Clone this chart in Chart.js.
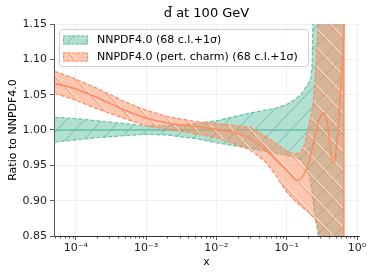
<!DOCTYPE html>
<html>
<head>
<meta charset="utf-8">
<script src="https://cdn.jsdelivr.net/npm/chart.js@4.4.1/dist/chart.umd.min.js"></script>
<style>
  html, body { margin: 0; padding: 0; background: #fff; }
  #wrap { width: 374px; height: 276px; }
</style>
</head>
<body>
<div id="wrap"><canvas id="c" width="374" height="276"></canvas></div>
<script>
// ---- data ----
const chartTitle = 'd\u0304 at 100 GeV';
const xTickValues = [1e-4, 1e-3, 1e-2, 1e-1, 1];
const xTickLabels = ['10\u207B\u2074', '10\u207B\u00B3', '10\u207B\u00B2', '10\u207B\u00B9', '10\u2070'];
const yTickValues = [0.85, 0.90, 0.95, 1.00, 1.05, 1.10, 1.15];

// NNPDF4.0 band (ratio to itself)
const greenX  = [5e-5, 1e-4, 2e-4, 5e-4, 1e-3, 2e-3, 5e-3, 1e-2, 2e-2, 3e-2, 5e-2, 7e-2, 0.1, 0.13, 0.16, 0.2, 0.22, 0.23, 0.25, 0.27, 0.3, 0.4, 0.65];
const greenUp = [1.018, 1.016, 1.013, 1.009, 1.006, 1.006, 1.009, 1.013, 1.020, 1.024, 1.028, 1.031, 1.036, 1.043, 1.050, 1.065, 1.072, 1.090, 1.3, 1.3, 1.3, 1.3, 1.3];
const greenLo = [0.983, 0.986, 0.989, 0.992, 0.994, 0.993, 0.988, 0.982, 0.977, 0.974, 0.970, 0.967, 0.964, 0.962, 0.958, 0.943, 0.925, 0.913, 0.880, 0.862, 0.835, 0.7, 0.7];
const greenCX = [5e-5, 0.65];
const greenCY = [1.0, 1.0];

// NNPDF4.0 (pert. charm) band
const orangeX  = [5e-5, 1e-4, 2e-4, 5e-4, 1e-3, 2e-3, 5e-3, 1e-2, 2e-2, 3e-2, 5e-2, 7e-2, 0.1, 0.13, 0.16, 0.18, 0.2, 0.22, 0.24, 0.26, 0.28, 0.3, 0.35, 0.4, 0.65];
const orangeUp = [1.083, 1.072, 1.059, 1.040, 1.028, 1.019, 1.012, 1.009, 1.006, 1.004, 0.991, 0.981, 0.970, 0.966, 0.968, 0.980, 1.0, 1.02, 1.04, 1.09, 1.15, 1.3, 1.3, 1.3, 1.3];
const orangeLo = [1.052, 1.042, 1.030, 1.016, 1.006, 1.001, 0.995, 0.989, 0.979, 0.972, 0.955, 0.936, 0.912, 0.900, 0.892, 0.888, 0.885, 0.880, 0.877, 0.872, 0.862, 0.845, 0.75, 0.7, 0.7];
const orangeCX = [5e-5, 1e-4, 2e-4, 5e-4, 1e-3, 2e-3, 5e-3, 1e-2, 2e-2, 3e-2, 5e-2, 7e-2, 0.1, 0.12, 0.14, 0.16, 0.19, 0.22, 0.25, 0.3, 0.34, 0.37, 0.39, 0.42, 0.46, 0.49, 0.525, 0.56, 0.6, 0.65, 0.66];
const orangeCY = [1.066, 1.058, 1.046, 1.028, 1.017, 1.010, 1.005, 1.001, 0.995, 0.988, 0.972, 0.958, 0.943, 0.934, 0.929, 0.931, 0.944, 0.965, 0.990, 1.018, 1.024, 1.015, 1.0, 0.970, 0.954, 0.962, 0.990, 1.025, 1.075, 1.14, 1.17];

const labels = ['NNPDF4.0 (68 c.l.+1\u03C3)', 'NNPDF4.0 (pert. charm) (68 c.l.+1\u03C3)'];

const green = '#66c2a5';
const orange = '#fc8d62';

function pts(xs, ys) {
    return xs.map((x, i) => ({ x: x, y: ys[i] }));
}

const canvas = document.getElementById('c');
const ctx = canvas.getContext('2d');

// hatched fill like matplotlib's hatch='/' and '\\'
function makeHatch(fill, line, dir, white) {
    const w = 18, h = 19;
    const tile = document.createElement('canvas');
    tile.width = w; tile.height = h;
    const g = tile.getContext('2d');
    g.fillStyle = fill;
    g.fillRect(0, 0, w, h);
    g.lineWidth = 0.9;
    const draw = (off, color) => {
        g.strokeStyle = color;
        g.beginPath();
        [-w, 0, w].forEach(k => {
            if (dir === '/') { g.moveTo(k + off, h); g.lineTo(k + off + w, 0); }
            else { g.moveTo(k + off, 0); g.lineTo(k + off + w, h); }
        });
        g.stroke();
    };
    if (white) draw(1.8, 'rgba(255,255,255,0.85)');
    draw(0, line);
    return ctx.createPattern(tile, 'repeat');
}

const greenHatch = makeHatch('rgba(102,194,165,0.5)', 'rgba(50,150,120,0.55)', '/', false);
const orangeHatch = makeHatch('rgba(252,141,98,0.5)', 'rgba(252,141,98,0.95)', '\\', true);

const lineBase = { pointRadius: 0, pointHoverRadius: 0, fill: false };

const datasets = [
    { ...lineBase, data: pts(orangeCX, orangeCY), borderColor: orange, borderWidth: 1.6, cubicInterpolationMode: 'monotone' },
    { ...lineBase, data: pts([orangeX[orangeX.length - 1], orangeX[orangeX.length - 1]], [orangeLo[orangeLo.length - 1], orangeUp[orangeUp.length - 1]]), borderColor: orange, borderWidth: 1.5 },
    { ...lineBase, data: pts(orangeX, orangeLo), borderColor: orange, borderWidth: 1.2, borderDash: [4, 2] },
    { ...lineBase, label: labels[1], legend: true, data: pts(orangeX, orangeUp), borderColor: orange, borderWidth: 1.2, borderDash: [4, 2],
      backgroundColor: orangeHatch, fill: '-1' },
    { ...lineBase, data: pts(greenCX, greenCY), borderColor: green, borderWidth: 1.6 },
    { ...lineBase, data: pts(greenX, greenLo), borderColor: green, borderWidth: 1.2, borderDash: [4, 2] },
    { ...lineBase, label: labels[0], legend: true, data: pts(greenX, greenUp), borderColor: green, borderWidth: 1.2, borderDash: [4, 2],
      backgroundColor: greenHatch, fill: '-1' }
];

// draw order: first dataset on top, fills before their own line
datasets.forEach((d, i) => { d.order = i; });

const FONT = 'DejaVu Sans';

const decor = {
    id: 'decor',
    afterDraw(chart) {
        const c = chart.ctx;
        const area = chart.chartArea;
        const xs = chart.scales.x;
        c.save();
        // minor ticks on the log axis
        c.strokeStyle = '#333';
        c.lineWidth = 0.8;
        for (let k = -5; k <= 0; k++) {
            for (let m = 2; m <= 9; m++) {
                const v = m * Math.pow(10, k);
                if (v < xs.min || v > xs.max) continue;
                const px = Math.round(xs.getPixelForValue(v)) + 0.5;
                c.beginPath();
                c.moveTo(px, area.bottom);
                c.lineTo(px, area.bottom + 2.5);
                c.stroke();
            }
        }
        // title centred on the plot
        c.fillStyle = '#000';
        c.font = '13px "' + FONT + '"';
        c.textAlign = 'center';
        c.textBaseline = 'alphabetic';
        c.fillText(chartTitle, (area.left + area.right) / 2, 17);

        // legend box
        const items = chart.data.datasets.filter(d => d.legend);
        items.sort((a, b) => labels.indexOf(a.label) - labels.indexOf(b.label));
        const bx = area.left + 5, by = area.top + 5, bw = 249, bh = 37;
        c.beginPath();
        c.roundRect(bx + 0.5, by + 0.5, bw, bh, 3);
        c.fillStyle = 'rgba(255,255,255,0.8)';
        c.fill();
        c.strokeStyle = '#d0d0d0';
        c.lineWidth = 1;
        c.stroke();
        c.font = '11px "' + FONT + '"';
        c.textAlign = 'left';
        c.textBaseline = 'middle';
        items.forEach((d, i) => {
            const cy = by + 11 + i * 17;
            const ix = bx + 4, iw = 25, ih = 9;
            c.fillStyle = '#fff';
            c.fillRect(ix, cy - ih / 2, iw, ih);
            c.fillStyle = d.backgroundColor;
            c.fillRect(ix, cy - ih / 2, iw, ih);
            c.setLineDash([3, 1.5]);
            c.strokeStyle = d.borderColor;
            c.lineWidth = 1;
            c.strokeRect(ix + 0.5, cy - ih / 2 + 0.5, iw - 1, ih - 1);
            c.setLineDash([]);
            c.fillStyle = '#000';
            c.fillText(d.label, ix + iw + 9, cy);
        });
        c.restore();
    }
};

new Chart(ctx, {
    type: 'line',
    data: { datasets: datasets },
    options: {
        responsive: false,
        animation: false,
        devicePixelRatio: 1,
        layout: { padding: { top: 24, right: 15, left: 0, bottom: 0 } },
        plugins: {
            legend: { display: false },
            title: { display: false },
            tooltip: { enabled: false },
            filler: { propagate: false }
        },
        scales: {
            x: {
                type: 'logarithmic',
                min: 4.9e-5,
                max: 1.067,
                afterBuildTicks: s => { s.ticks = xTickValues.map(v => ({ value: v })); },
                afterFit: s => { s.height = 40; },
                ticks: {
                    color: '#222',
                    font: { family: FONT, size: 11 },
                    padding: 2,
                    autoSkip: false,
                    maxRotation: 0,
                    callback: v => xTickLabels[xTickValues.indexOf(v)]
                },
                grid: { color: '#ececec', lineWidth: 0.8, tickColor: '#333', tickLength: 4, tickWidth: 0.8 },
                border: { color: '#333', width: 1 },
                title: { display: true, text: 'x', color: '#000', font: { family: FONT, size: 11 }, padding: { top: 0, bottom: 7 } }
            },
            y: {
                min: 0.85,
                max: 1.15,
                afterBuildTicks: s => { s.ticks = yTickValues.map(v => ({ value: v })); },
                afterFit: s => { s.width = 54; },
                ticks: {
                    color: '#222',
                    font: { family: FONT, size: 11 },
                    padding: 3,
                    callback: v => v.toFixed(2)
                },
                grid: { color: '#ececec', lineWidth: 0.8, tickColor: '#333', tickLength: 4, tickWidth: 0.8 },
                border: { color: '#555', width: 1 },
                title: { display: true, text: 'Ratio to NNPDF4.0', color: '#000', font: { family: FONT, size: 11 }, padding: { top: 7, bottom: 0 } }
            }
        }
    },
    plugins: [decor]
});
</script>
</body>
</html>
